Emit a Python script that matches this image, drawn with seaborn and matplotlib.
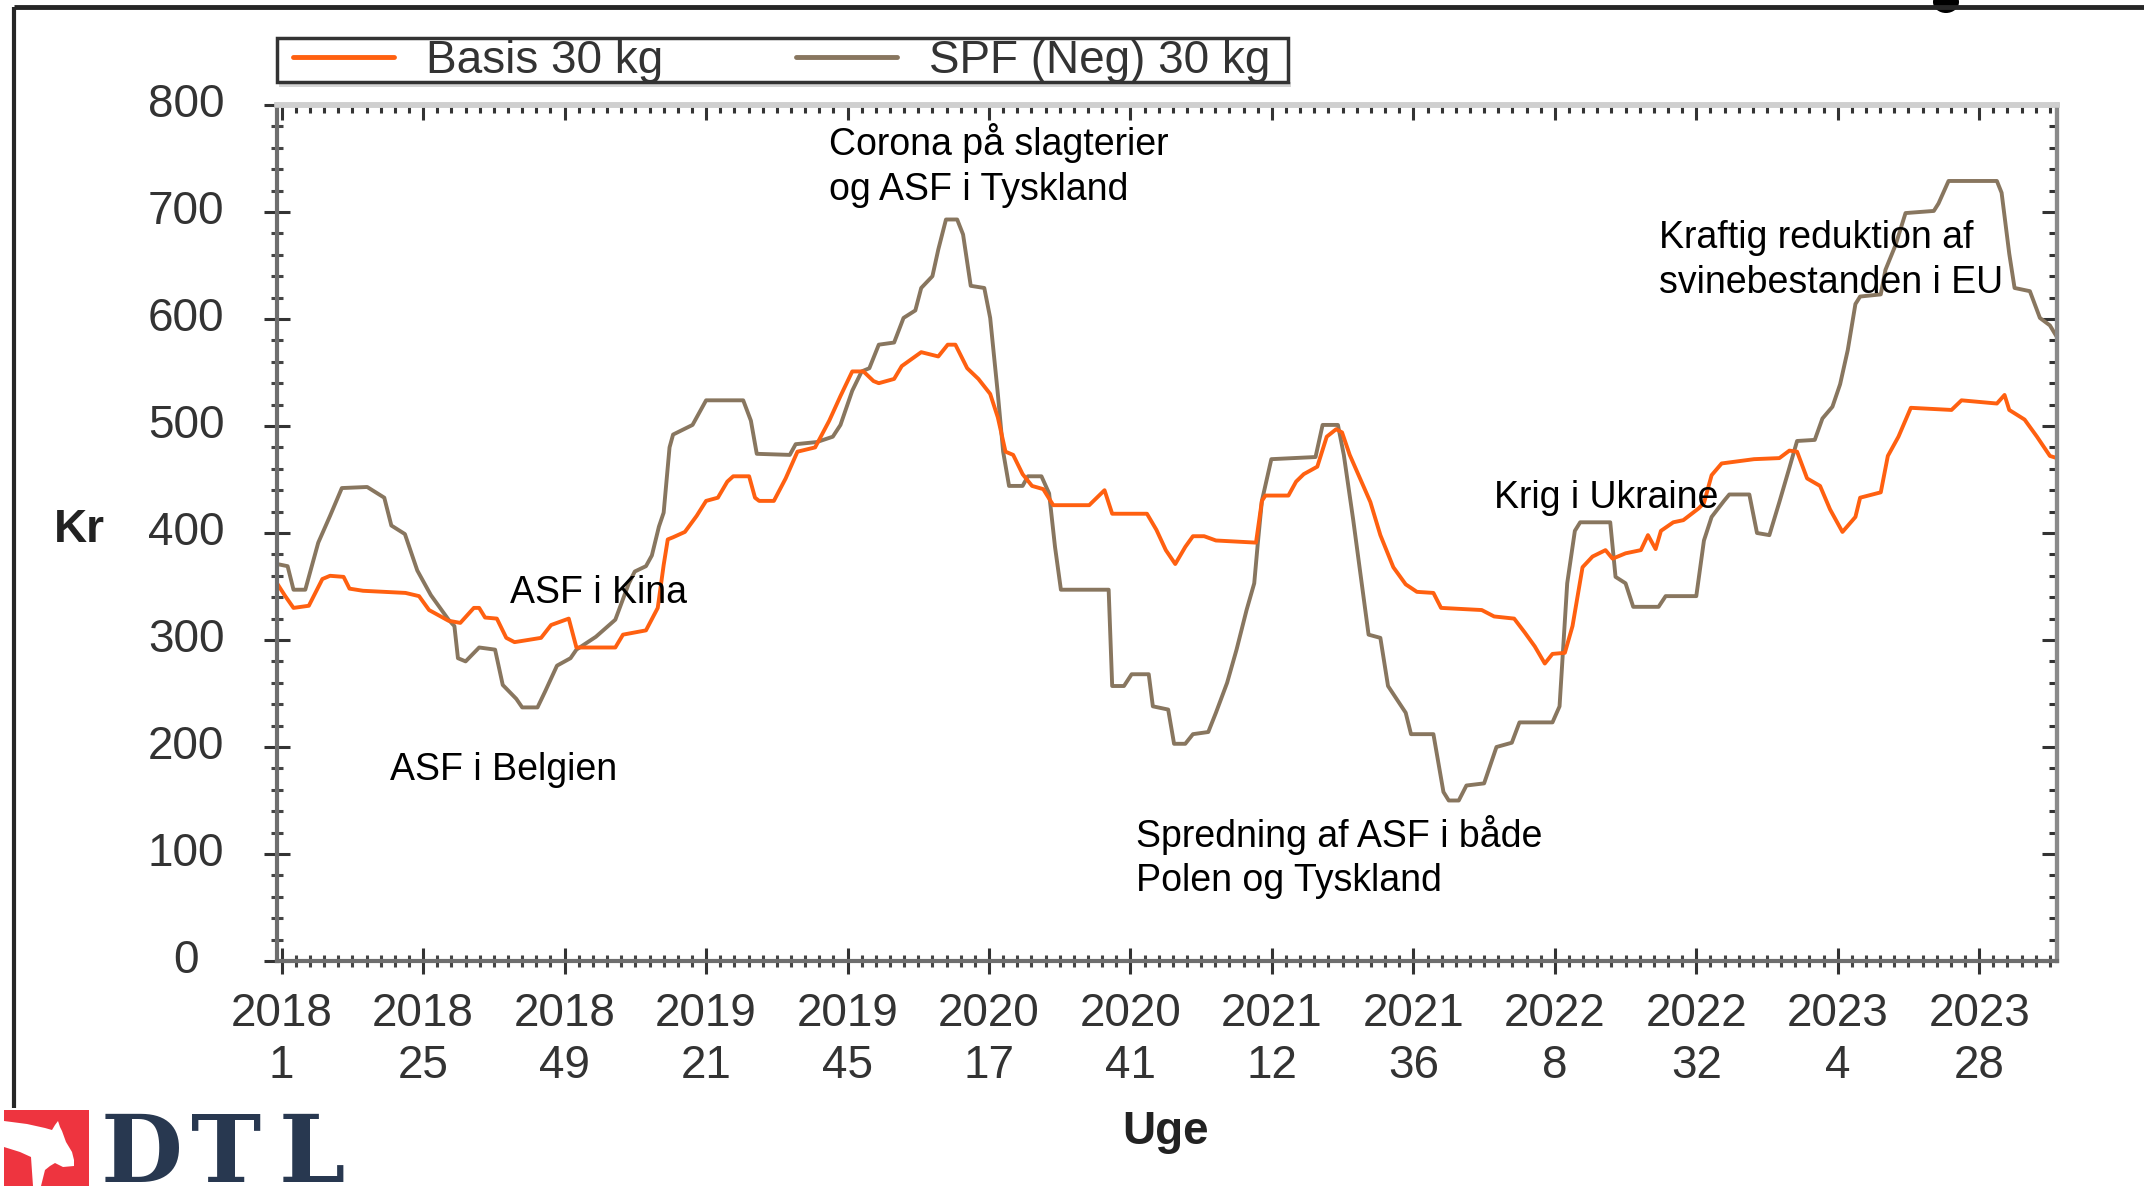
import matplotlib
matplotlib.use("Agg")
import matplotlib.pyplot as plt
import seaborn as sns
import pandas as pd
from matplotlib.patches import Rectangle, Polygon, Ellipse
from matplotlib.lines import Line2D
from matplotlib.ticker import MultipleLocator

# ---------------- data (week index 0 = 2018 uge 1) ----------------
basis_weeks = [-0.8, 0.6, 2, 4.6, 6.9, 8.2, 10.5, 11.5, 13.8, 21, 23.3, 25, 28.3, 30.3, 32.6, 33.5,
               34.5, 36.5, 38.1, 39.5, 44, 45.7, 48.7, 50, 56.6, 57.9, 61.8, 63.8, 64.8, 65.5, 66.4,
               68.4, 70.4, 72, 74, 75.6, 76.6, 79.3, 80.3, 81, 83.5, 85.5, 87.5, 90.5, 92.9, 94.8,
               96.8, 98.7, 100.4, 101.3, 103.9, 105.2, 108.5, 111.4, 113, 114.3, 116.3, 118.2,
               120.2, 121.5, 122.8, 124.1, 125.7, 127.3, 129.2, 130.9, 137, 139.6, 140.9, 146.8,
               148.4, 150, 151.6, 153.3, 154.6, 156.5, 158.5, 165.3, 166.3, 166.9, 170.8, 172.1,
               173.4, 175.7, 177.3, 178.9, 179.9, 181.2, 184.7, 186.4, 188.6, 190.7, 192.6, 195.4,
               196.7, 203.6, 205.7, 209.1, 210.9, 212.6, 214.3, 215.6, 217.7, 219, 220.7, 222.4,
               224.6, 225.8, 228, 230.6, 231.8, 233.1, 234, 236.1, 237.8, 240.4, 241.3, 242.6,
               244.3, 249.8, 254.1, 255.8, 257.1, 258.8, 261, 262.7, 264.8, 267, 267.8, 271.3,
               272.5, 274.3, 276.4, 283.3, 285, 291, 292.3, 293.1, 295.7, 297.8, 300, 301.2]
basis_values = [353, 341, 330, 332, 357, 360, 359, 348, 346, 344, 341, 328, 318, 316, 330, 330,
                321, 320, 302, 298, 302, 314, 320, 293, 293, 305, 309, 330, 370, 394, 396,
                401, 416, 430, 433, 448, 453, 453, 433, 430, 430, 451, 476, 480, 505, 528,
                551, 551, 542, 540, 544, 556, 569, 565, 576, 576, 554, 544,
                530, 508, 476, 473, 455, 444, 441, 426, 426, 440, 418, 418,
                403, 384, 371, 387, 397, 397, 393, 391, 430, 435, 435, 448,
                455, 462, 490, 497, 494, 473, 429, 398, 368, 352, 345, 344,
                330, 328, 322, 320, 307, 294, 278, 287, 288, 313, 368, 378,
                384, 376, 381, 384, 398, 385, 402, 410, 412, 423, 428, 454,
                465, 469, 470, 477, 476, 451, 444, 422, 401, 415, 433, 438,
                472, 490, 517, 515, 524, 521, 529, 515, 506, 490, 472, 470]

spf_weeks = [-0.8, 1, 2, 4, 6.2, 8.2, 10.2, 14.5, 17.4, 18.6, 20.9, 23, 25.3, 28.3, 29.3, 29.9,
             31.2, 33.5, 36.2, 37.5, 39.8, 40.8, 43.4, 44.7, 46.7, 49, 50, 53.3, 56.6, 58.9, 59.9,
             61.8, 62.8, 64, 64.8, 65.8, 66.4, 69.7, 72, 78.3, 79.6, 80.6, 86.2, 87.2, 90.8, 93.5,
             94.8, 96.8, 98.4, 99.7, 101.3, 103.9, 105.5, 107.5, 108.5, 110.4, 111.4, 112.7, 114.6,
             115.6, 116.9, 119.2, 120.2, 121.5, 122.4, 123.4, 125.7, 126.6, 128.9, 130.2, 131.2,
             132.2, 140.3, 140.9, 142.9, 144.2, 147.1, 147.8, 150.4, 151.4, 153.3, 154.6, 157.2,
             158.5, 160.4, 162, 163.7, 165, 165.6, 166.3, 167.9, 175.4, 176.6, 179.2, 180.2, 181.8,
             184.4, 186.4, 187.7, 190.7, 191.6, 195.4, 197.1, 198, 199.7, 201, 204, 206.1, 208.7,
             210, 215.6, 216.8, 218.1, 219.4, 220.3, 225.4, 226.3, 228, 229.3, 233.6, 234.8, 240,
             241.3, 242.6, 244.7, 245.6, 249, 250.3, 252.4, 254.1, 255.8, 257.1, 260.1, 261.4,
             263.1, 264.4, 265.7, 267, 267.8, 271.3, 272.1, 273.8, 275.5, 280.3, 281.1, 282.8,
             291, 291.8, 293.1, 294, 296.6, 298.3, 300, 301.2]
spf_values = [371, 369, 347, 347, 391, 416, 442, 443, 433, 407, 399, 365, 342, 319, 313, 283,
              280, 293, 291, 258, 245, 237, 237, 252, 276, 283, 291, 303, 319, 353, 364,
              369, 379, 406, 419, 480, 492, 501, 524, 524, 505, 474, 473, 483, 485, 490,
              501, 533, 551, 554, 576, 578, 601, 608, 629, 640, 665, 693, 693,
              679, 631, 629, 601, 530, 476, 444, 444, 453, 453, 437, 387,
              347, 347, 257, 257, 268, 268, 238, 235, 203, 203, 212, 214,
              232, 260, 291, 328, 353, 390, 430, 469, 471, 501, 501, 473, 412,
              305, 302, 257, 232, 212, 212, 158, 150, 150, 164, 166, 200, 204,
              223, 223, 238, 353, 402, 410, 410, 359, 353, 331, 331, 341, 341,
              393, 415, 430, 436, 436, 400, 398, 429, 461, 486, 487, 507,
              518, 539, 571, 614, 621, 623, 646, 669, 699, 701, 708, 729,
              729, 718, 661, 629, 626, 601, 594, 583]

tick_positions = [0, 24, 48, 72, 96, 120, 144, 168, 192, 216, 240, 264, 288]
tick_years = ["2018", "2018", "2018", "2019", "2019", "2020", "2020",
              "2021", "2021", "2022", "2022", "2023", "2023"]
tick_weeknums = ["1", "25", "49", "21", "45", "17", "41", "12", "36", "8", "32", "4", "28"]
y_ticks = [0, 100, 200, 300, 400, 500, 600, 700, 800]

series_names = ["Basis 30 kg", "SPF (Neg) 30 kg"]
series_colors = ["#ff6010", "#88765f"]

annot_texts = ["ASF i Kina", "ASF i Belgien", "Corona på slagterier", "og ASF i Tyskland",
               "Spredning af ASF i både", "Polen og Tyskland", "Krig i Ukraine",
               "Kraftig reduktion af", "svinebestanden i EU"]
annot_x = [38.8, 18.3, 92.9, 92.9, 145, 145, 205.7, 233.7, 233.7]
annot_y = [335, 169, 753, 711, 107, 65, 423, 666, 624]

# ---------------- style ----------------
sns.set_theme(style="white")
plt.rcParams["font.family"] = ["Liberation Sans", "DejaVu Sans"]

W, H = 2144, 1186
fig = plt.figure(figsize=(W / 100, H / 100), dpi=100)
fig.patch.set_facecolor("white")
ax = fig.add_axes([277 / W, 1 - 961 / H, (2057 - 277) / W, (961 - 105) / H])

df_spf = pd.DataFrame({"uge": spf_weeks, "kr": spf_values})
df_basis = pd.DataFrame({"uge": basis_weeks, "kr": basis_values})
sns.lineplot(data=df_spf, x="uge", y="kr", color=series_colors[1], lw=2.8,
             sort=False, estimator=None, ax=ax)
sns.lineplot(data=df_basis, x="uge", y="kr", color=series_colors[0], lw=2.8,
             sort=False, estimator=None, ax=ax)

ax.set_xlim(-0.8, 301.2)
ax.set_ylim(0, 800)
ax.set_xlabel("")
ax.set_ylabel("")

tick_col = "#333333"
ax.set_xticks(tick_positions)
ax.set_xticklabels([f"{y}\n{w}" for y, w in zip(tick_years, tick_weeknums)],
                   fontsize=33, color=tick_col, linespacing=1.22)
ax.set_yticks(y_ticks)
ax.set_yticklabels([str(v) for v in y_ticks], fontsize=33, color=tick_col)
for lbl in ax.get_yticklabels():
    lbl.set_horizontalalignment("center")
    lbl.set_verticalalignment("center")
ax.xaxis.set_minor_locator(MultipleLocator(2.4))
ax.yaxis.set_minor_locator(MultipleLocator(20))
ax.tick_params(axis="both", which="both", bottom=True, left=True, top=False, right=False)
ax.tick_params(axis="both", which="major", direction="inout", length=19, width=2.2,
               color="#333333")
ax.tick_params(axis="both", which="minor", direction="inout", length=9, width=2.2,
               color="#444444")
ax.tick_params(axis="x", which="major", pad=13)
ax.tick_params(axis="y", which="major", pad=56)

for side, col, lw in [("left", "#6e6e6e", 3), ("bottom", "#6e6e6e", 3),
                      ("top", "#cfcfcf", 4), ("right", "#8a8a8a", 3)]:
    ax.spines[side].set_visible(True)
    ax.spines[side].set_color(col)
    ax.spines[side].set_linewidth(lw)

# inward ticks on top and right
secx = ax.secondary_xaxis("top")
secx.set_xticks(tick_positions)
secx.xaxis.set_minor_locator(MultipleLocator(2.4))
secx.tick_params(which="both", top=True)
secx.tick_params(which="major", direction="in", length=11, width=2.2, color="#333333", labeltop=False)
secx.tick_params(which="minor", direction="in", length=6, width=2.2, color="#333333")
secx.spines["top"].set_color("#cfcfcf")
secx.spines["top"].set_linewidth(4)
secy = ax.secondary_yaxis("right")
secy.set_yticks(y_ticks)
secy.yaxis.set_minor_locator(MultipleLocator(20))
secy.tick_params(which="both", right=True)
secy.tick_params(which="major", direction="in", length=11, width=2.2, color="#333333", labelright=False)
secy.tick_params(which="minor", direction="in", length=6, width=2.2, color="#333333")
secy.spines["right"].set_color("#8a8a8a")
secy.spines["right"].set_linewidth(3)

for t, x, y in zip(annot_texts, annot_x, annot_y):
    ax.text(x, y, t, fontsize=27, color="black", ha="left", va="baseline")

# axis titles
fig.text(79 / W, 1 - 530 / H, "Kr", fontsize=33, fontweight="bold", color="#222222",
         ha="center", va="center")
fig.text(1166 / W, 1 - 1132 / H, "Uge", fontsize=33, fontweight="bold", color="#222222",
         ha="center", va="center")

# legend
handles = [Line2D([], [], color=c, lw=3.5) for c in series_colors]
fig.legend(handles, series_names, loc="center left",
           bbox_to_anchor=(293 / W, 1 - 61 / H), bbox_transform=fig.transFigure,
           ncol=2, frameon=False, fontsize=33, handlelength=2.2, handletextpad=0.7,
           columnspacing=2.9, borderpad=0, borderaxespad=0, labelcolor="#333333")

# decoration overlay in pixel coordinates
ov = fig.add_axes([0, 0, 1, 1], zorder=-1)
ov.set_xlim(0, W)
ov.set_ylim(H, 0)
ov.axis("off")
ov.add_patch(Rectangle((279, 82), 1012, 5, facecolor="#d6d6d6", edgecolor="none"))
ov.add_patch(Rectangle((277, 38), 1011, 44, facecolor="none", edgecolor="#333333", lw=2.5))
ov.plot([14, W], [7, 7], color="#262626", lw=3.5, solid_capstyle="butt")
ov.plot([14, 14], [7, 1108], color="#262626", lw=3, solid_capstyle="butt")
ov.add_patch(Ellipse((1946, 2), 26, 22, facecolor="black", edgecolor="none"))

# DTL logo
ov.add_patch(Rectangle((4, 1110), 85, 76, facecolor="#ee343f", edgecolor="none"))
pig = [(4, 1121), (27, 1124), (45, 1128), (52, 1130), (55, 1125), (58, 1121), (60, 1127),
       (62, 1131), (66, 1142), (72, 1152), (74, 1160), (74, 1166), (63, 1167), (55, 1163),
       (50, 1166), (45, 1170), (41, 1186), (33, 1186), (31, 1157), (20, 1152), (4, 1147)]
ov.add_patch(Polygon(pig, closed=True, facecolor="white", edgecolor="none"))
for letter, cx in [("D", 142), ("T", 226), ("L", 312)]:
    ov.text(cx, 1182, letter, fontsize=68, fontweight="bold", family="DejaVu Serif",
            color="#283850", ha="center", va="baseline")

fig.savefig("out.png", dpi=100, facecolor="white")
